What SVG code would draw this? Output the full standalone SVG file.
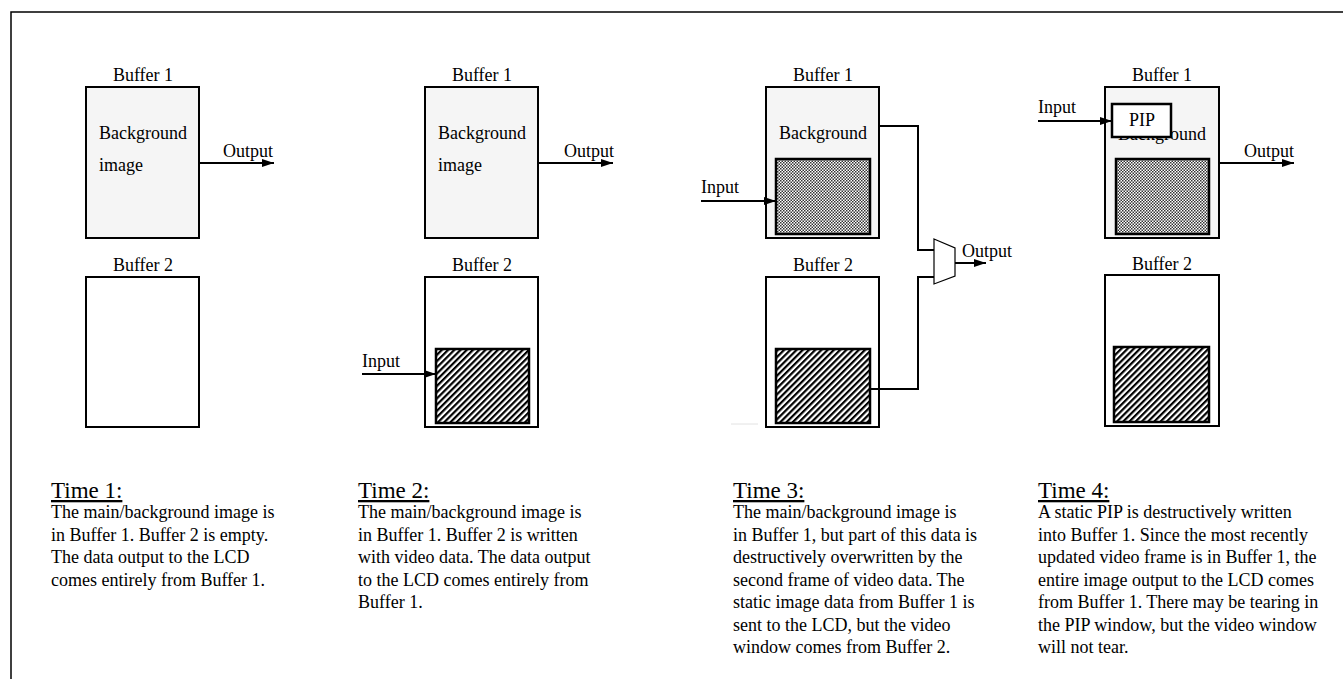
<svg xmlns="http://www.w3.org/2000/svg" width="1343" height="679" viewBox="0 0 1343 679">
<style>
text{font-family:"Liberation Serif","Times New Roman",serif;fill:#000}
.lbl{font-size:18px}
.ttl{font-size:23px;text-decoration:underline}
.body{font-size:18px}
.buf1{fill:#f5f5f5;stroke:#000;stroke-width:2}
.buf2{fill:#fff;stroke:#000;stroke-width:2}
.chk{fill:url(#checker);stroke:#000;stroke-width:2.5}
.hat{fill:url(#hatch);stroke:#000;stroke-width:2.5}
.wire{fill:none;stroke:#000;stroke-width:2}
.arr{fill:none;stroke:#000;stroke-width:2;marker-end:url(#ah)}
</style>
<defs>
<marker id="ah" markerUnits="userSpaceOnUse" markerWidth="12" markerHeight="8" refX="12" refY="4" orient="auto">
<path d="M0,0 L12,4 L0,8 z" fill="#000"/>
</marker>
<pattern id="checker" patternUnits="userSpaceOnUse" width="3" height="3">
<rect width="3" height="3" fill="#fff"/>
<rect width="1.5" height="1.5" fill="#333"/>
<rect x="1.5" y="1.5" width="1.5" height="1.5" fill="#333"/>
</pattern>
<pattern id="hatch" patternUnits="userSpaceOnUse" width="4.4" height="4.4" patternTransform="rotate(45)">
<rect width="4.4" height="4.4" fill="#fff"/>
<rect width="2.2" height="4.4" fill="#000"/>
</pattern>
</defs>

<g id="frame">
<path d="M11,679 L11,12 L1343,12" fill="none" stroke="#000" stroke-width="1.5"/>
</g>

<!-- Panel 1 -->
<g id="p1-buffer1">
<text class="lbl" x="143" y="81" text-anchor="middle">Buffer 1</text>
<rect class="buf1" x="86" y="87" width="113" height="151"/>
<text class="lbl" x="99" y="139">Background</text>
<text class="lbl" x="99" y="171">image</text>
</g>
<g id="p1-buffer2">
<text class="lbl" x="143" y="271" text-anchor="middle">Buffer 2</text>
<rect class="buf2" x="86" y="277" width="113" height="150"/>
</g>
<g id="p1-output"><text class="lbl" x="223" y="157">Output</text></g>

<!-- Panel 2 -->
<g id="p2-buffer1">
<text class="lbl" x="482" y="81" text-anchor="middle">Buffer 1</text>
<rect class="buf1" x="425" y="87" width="113" height="151"/>
<text class="lbl" x="438" y="139">Background</text>
<text class="lbl" x="438" y="171">image</text>
</g>
<g id="p2-buffer2">
<text class="lbl" x="482" y="271" text-anchor="middle">Buffer 2</text>
<rect class="buf2" x="425" y="277" width="113" height="150"/>
<rect class="hat" x="436" y="349" width="93" height="74"/>
</g>
<g id="p2-output"><text class="lbl" x="564" y="157">Output</text></g>
<g id="p2-input"><text class="lbl" x="362" y="367">Input</text></g>

<!-- Panel 3 -->
<g id="p3-buffer1">
<text class="lbl" x="823" y="81" text-anchor="middle">Buffer 1</text>
<rect class="buf1" x="766" y="87" width="113" height="151"/>
<text class="lbl" x="779" y="139">Background</text>
<rect class="chk" x="776" y="159" width="94" height="75"/>
</g>
<g id="p3-buffer2">
<text class="lbl" x="823" y="271" text-anchor="middle">Buffer 2</text>
<rect class="buf2" x="766" y="277" width="113" height="150"/>
<rect class="hat" x="776" y="349" width="94" height="74"/>
</g>
<g id="p3-mux">
<polygon points="934,239 955,248 955,276 934,284" fill="#fff" stroke="#000" stroke-width="1.2"/>
<text class="lbl" x="962" y="257">Output</text>
</g>
<g id="p3-input"><text class="lbl" x="701" y="193">Input</text></g>
<line x1="731" y1="424" x2="758" y2="424" stroke="#e2e2e2" stroke-width="1"/>

<!-- Panel 4 -->
<g id="p4-buffer1">
<text class="lbl" x="1162" y="81" text-anchor="middle">Buffer 1</text>
<rect class="buf1" x="1105" y="87" width="114" height="151"/>
<text class="lbl" x="1118" y="140">Background</text>
<rect class="chk" x="1116" y="159" width="93" height="75"/>
</g>
<g id="p4-pip">
<rect x="1112" y="104" width="59" height="33" fill="#fff" stroke="#000" stroke-width="2.5"/>
<text class="lbl" x="1142" y="126" text-anchor="middle">PIP</text>
</g>
<g id="p4-buffer2">
<text class="lbl" x="1162" y="270" text-anchor="middle">Buffer 2</text>
<rect class="buf2" x="1105" y="275" width="114" height="151"/>
<rect class="hat" x="1114" y="347" width="95" height="75"/>
</g>
<g id="p4-output"><text class="lbl" x="1244" y="157">Output</text></g>
<g id="p4-input"><text class="lbl" x="1038" y="113">Input</text></g>

<!-- Connectors -->
<g id="connectors">
<line class="arr" x1="199" y1="163" x2="274" y2="163"/>
<line class="arr" x1="538" y1="163" x2="613" y2="163"/>
<line class="arr" x1="362" y1="374" x2="436" y2="374"/>
<polyline class="wire" points="879,126 918,126 918,250 934,250"/>
<polyline class="wire" points="870,389 918,389 918,277 934,277"/>
<line class="arr" x1="955" y1="263" x2="986" y2="263"/>
<line class="arr" x1="701" y1="201" x2="776" y2="201"/>
<line class="arr" x1="1219" y1="163" x2="1294" y2="163"/>
<line class="arr" x1="1038" y1="121" x2="1112" y2="121"/>
</g>

<!-- Captions -->
<g id="caption1">
<text class="ttl" x="51" y="498">Time 1:</text>
<text class="body" x="51" y="518">The main/background image is</text>
<text class="body" x="51" y="540.5">in Buffer 1. Buffer 2 is empty.</text>
<text class="body" x="51" y="563">The data output to the LCD</text>
<text class="body" x="51" y="585.5">comes entirely from Buffer 1.</text>
</g>
<g id="caption2">
<text class="ttl" x="358" y="498">Time 2:</text>
<text class="body" x="358" y="518">The main/background image is</text>
<text class="body" x="358" y="540.5">in Buffer 1. Buffer 2 is written</text>
<text class="body" x="358" y="563">with video data. The data output</text>
<text class="body" x="358" y="585.5">to the LCD comes entirely from</text>
<text class="body" x="358" y="608">Buffer 1.</text>
</g>
<g id="caption3">
<text class="ttl" x="733" y="498">Time 3:</text>
<text class="body" x="733" y="518">The main/background image is</text>
<text class="body" x="733" y="540.5">in Buffer 1, but part of this data is</text>
<text class="body" x="733" y="563">destructively overwritten by the</text>
<text class="body" x="733" y="585.5">second frame of video data. The</text>
<text class="body" x="733" y="608">static image data from Buffer 1 is</text>
<text class="body" x="733" y="630.5">sent to the LCD, but the video</text>
<text class="body" x="733" y="653">window comes from Buffer 2.</text>
</g>
<g id="caption4">
<text class="ttl" x="1038" y="498">Time 4:</text>
<text class="body" x="1038" y="518">A static PIP is destructively written</text>
<text class="body" x="1038" y="540.5">into Buffer 1. Since the most recently</text>
<text class="body" x="1038" y="563">updated video frame is in Buffer 1, the</text>
<text class="body" x="1038" y="585.5">entire image output to the LCD comes</text>
<text class="body" x="1038" y="608">from Buffer 1. There may be tearing in</text>
<text class="body" x="1038" y="630.5">the PIP window, but the video window</text>
<text class="body" x="1038" y="653">will not tear.</text>
</g>
</svg>
